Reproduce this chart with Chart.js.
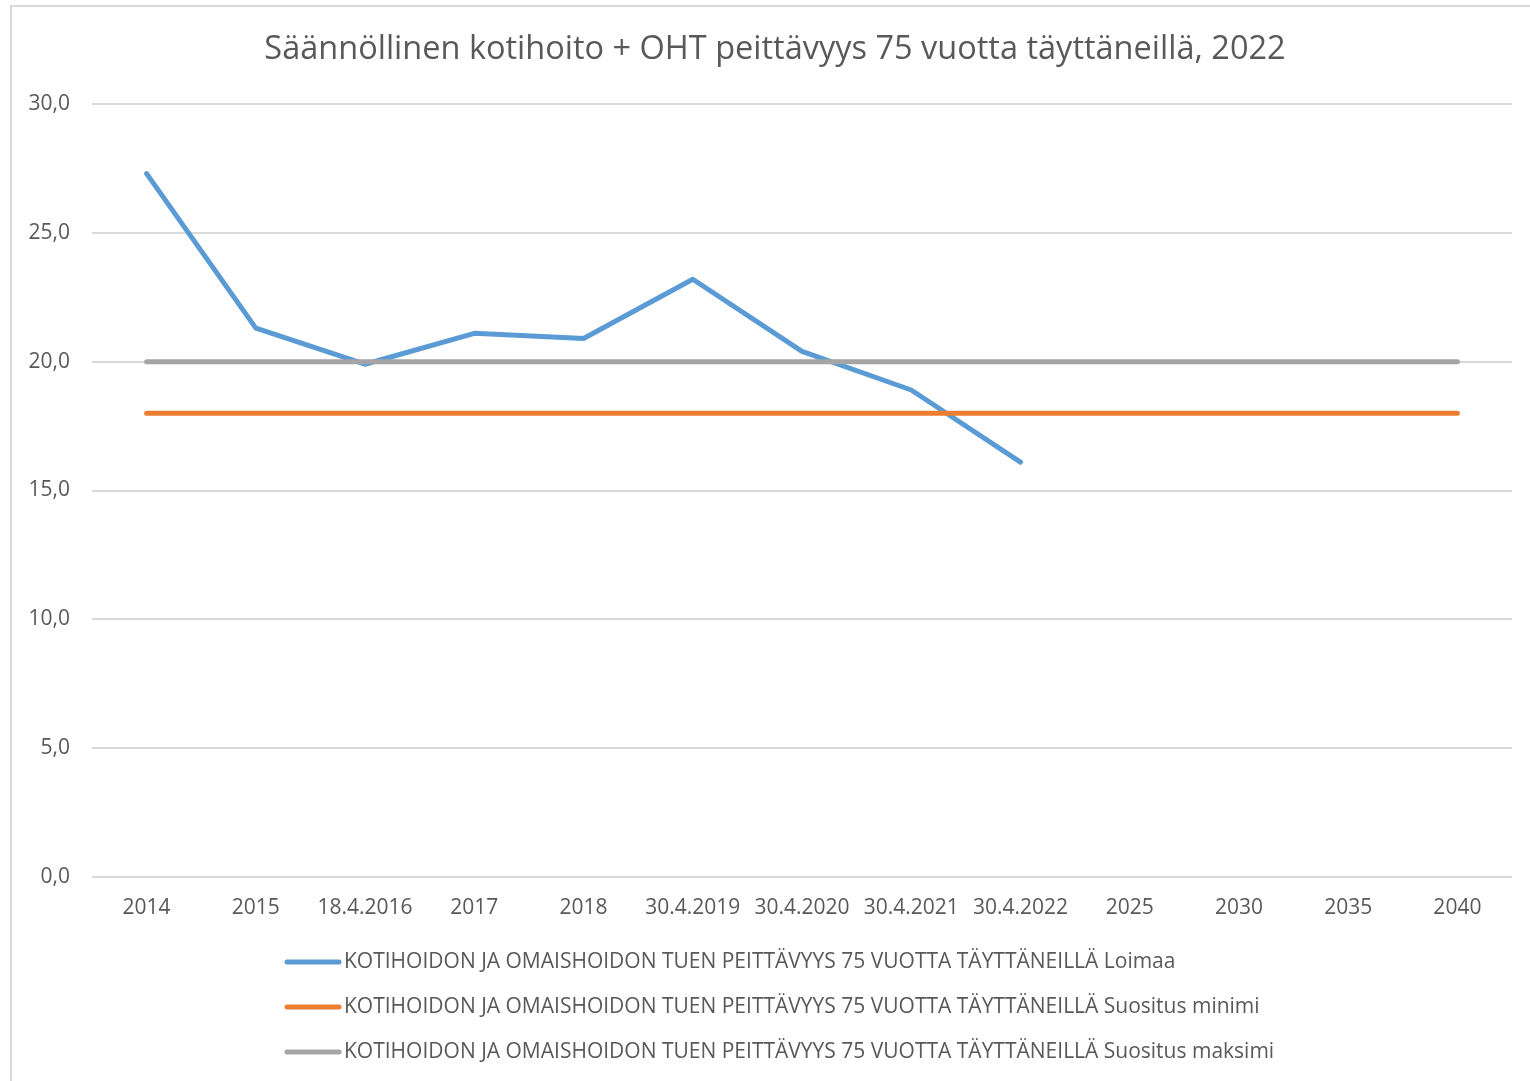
<!DOCTYPE html>
<html>
<head>
<meta charset="utf-8">
<script src="https://cdn.jsdelivr.net/npm/chart.js@4.4.1/dist/chart.umd.min.js"></script>
<style>
  html, body { margin: 0; padding: 0; background: #fff; }
  body { width: 1530px; height: 1081px; position: relative; overflow: hidden; }
  .frame { position: absolute; left: 10px; top: 5px; width: 1600px; height: 1200px; border: 2px solid #d9d9d9; box-sizing: border-box; }
  #chart { position: absolute; left: 0; top: 0; }
</style>
</head>
<body>
<div class="frame"></div>
<canvas id="chart" width="1530" height="1081"></canvas>
<script>
const categories = ['2014', '2015', '18.4.2016', '2017', '2018', '30.4.2019', '30.4.2020', '30.4.2021', '30.4.2022', '2025', '2030', '2035', '2040'];
const loimaa = [27.3, 21.3, 19.9, 21.1, 20.9, 23.2, 20.4, 18.9, 16.1, null, null, null, null];
const suositusMinimi = [18, 18, 18, 18, 18, 18, 18, 18, 18, 18, 18, 18, 18];
const suositusMaksimi = [20, 20, 20, 20, 20, 20, 20, 20, 20, 20, 20, 20, 20];
const seriesLabels = [
  'KOTIHOIDON JA OMAISHOIDON TUEN PEITTÄVYYS 75 VUOTTA TÄYTTÄNEILLÄ Loimaa',
  'KOTIHOIDON JA OMAISHOIDON TUEN PEITTÄVYYS 75 VUOTTA TÄYTTÄNEILLÄ Suositus minimi',
  'KOTIHOIDON JA OMAISHOIDON TUEN PEITTÄVYYS 75 VUOTTA TÄYTTÄNEILLÄ Suositus maksimi'
];
const titleText = 'Säännöllinen kotihoito + OHT peittävyys 75 vuotta täyttäneillä, 2022';

const textColor = '#595959';
const fontFamily = '"Open Sans", "Noto Sans", sans-serif';

// title and legend drawn by hand: title centred on the frame, legend rows left aligned
const textPlugin = {
  id: 'frameText',
  afterDraw(chart) {
    const ctx = chart.ctx;
    ctx.save();
    ctx.fillStyle = textColor;
    ctx.font = '32.5px ' + fontFamily;
    ctx.textAlign = 'center';
    ctx.textBaseline = 'middle';
    ctx.fillText(titleText, 775, 50);

    ctx.textAlign = 'left';
    chart.data.datasets.forEach((ds, i) => {
      const y = 962 + i * 45;
      ctx.strokeStyle = ds.borderColor;
      ctx.lineWidth = 5;
      ctx.lineCap = 'round';
      ctx.beginPath();
      ctx.moveTo(287, y);
      ctx.lineTo(339, y);
      ctx.stroke();
      ctx.fillStyle = textColor;
      ctx.font = '21px ' + fontFamily;
      ctx.fillText(ds.label, 344, y);
    });
    ctx.restore();
  }
};

new Chart(document.getElementById('chart'), {
  type: 'line',
  data: {
    labels: categories,
    datasets: [
      { label: seriesLabels[0], data: loimaa, borderColor: '#5b9bd5', order: 3 },
      { label: seriesLabels[1], data: suositusMinimi, borderColor: '#ed7d31', order: 2 },
      { label: seriesLabels[2], data: suositusMaksimi, borderColor: '#a5a5a5', order: 1 }
    ]
  },
  options: {
    responsive: false,
    animation: false,
    layout: { padding: { left: 0, right: 18, top: 104, bottom: 0 } },
    elements: {
      line: { borderWidth: 5, tension: 0, borderCapStyle: 'round', borderJoinStyle: 'round', fill: false },
      point: { radius: 0, hoverRadius: 0 }
    },
    plugins: {
      legend: { display: false },
      tooltip: { enabled: false },
      title: { display: false }
    },
    scales: {
      x: {
        offset: true,
        grid: { display: false, drawTicks: false },
        border: { display: false },
        ticks: { color: textColor, font: { family: fontFamily, size: 21 }, padding: 18, maxRotation: 0, autoSkip: false },
        afterFit(scale) { scale.height = 204; }
      },
      y: {
        min: 0,
        max: 30,
        grid: { color: '#d9d9d9', lineWidth: 2, drawTicks: false },
        border: { display: false },
        ticks: {
          stepSize: 5,
          color: textColor,
          font: { family: fontFamily, size: 21 },
          padding: 22,
          callback: v => v.toFixed(1).replace('.', ',')
        },
        afterFit(scale) { scale.width = 92; }
      }
    }
  },
  plugins: [textPlugin]
});
</script>
</body>
</html>
